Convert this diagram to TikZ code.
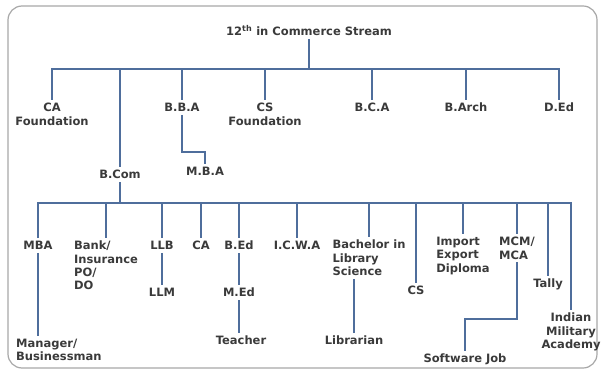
\documentclass[tikz,border=0pt]{standalone}
\usepackage{fontspec}
\setmainfont{DejaVu Sans}

\definecolor{linkblue}{HTML}{4F6E9C}
\definecolor{textgray}{HTML}{3A3A3A}
\definecolor{framegray}{HTML}{A8A8A8}

\begin{document}
\begin{tikzpicture}[x=1pt, y=-1pt,
labelnode/.style={font=\bfseries\fontsize{11.5}{13.3}\selectfont, text=textgray, align=center, inner sep=3pt, anchor=north},
leftnode/.style={labelnode, align=left},
link/.style={draw=linkblue, line width=1.8pt},
]
\useasboundingbox (0,0) rectangle (601,371);
\draw[framegray, line width=1.2pt, rounded corners=14pt] (8,6) rectangle (597,368);

% Bus heights
\coordinate (topbus) at (0,69);
\coordinate (lowbus) at (0,203);
\coordinate (bbabend) at (0,152);
\coordinate (mcmbend) at (0,319);

% Nodes
\node[labelnode] (title) at (309,22) {12\textsuperscript{th} in Commerce Stream};

\node[labelnode] (cafound) at (52,100) {CA\\Foundation};
\node[labelnode] (bcom) at (120,167) {B.Com};
\node[labelnode] (bba) at (182,100) {B.B.A};
\node[labelnode] (mbatwo) at (205,164) {M.B.A};
\node[labelnode] (csfound) at (265,100) {CS\\Foundation};
\node[labelnode] (bca) at (372,100) {B.C.A};
\node[labelnode] (barch) at (466,100) {B.Arch};
\node[labelnode] (ded) at (559,100) {D.Ed};

\node[labelnode] (mba) at (38,238) {MBA};
\node[leftnode, anchor=north west] (mgr) at (13,336) {Manager/\\Businessman};
\node[leftnode] (bank) at (106,238) {Bank/\\Insurance\\PO/\\DO};
\node[labelnode] (llb) at (162,238) {LLB};
\node[labelnode] (llm) at (162,285) {LLM};
\node[labelnode] (catwo) at (201,238) {CA};
\node[labelnode] (bed) at (239,238) {B.Ed};
\node[labelnode] (med) at (239,285) {M.Ed};
\node[labelnode] (teacher) at (241,333) {Teacher};
\node[labelnode] (icwa) at (297,238) {I.C.W.A};
\node[leftnode] (bls) at (369,237) {Bachelor in\\Library\\Science};
\node[labelnode] (librarian) at (354,333) {Librarian};
\node[labelnode] (cstwo) at (416,283) {CS};
\node[leftnode] (ied) at (463,234) {Import\\Export\\Diploma};
\node[leftnode] (mcm) at (517,234) {MCM/\\MCA};
\node[labelnode] (swjob) at (465,351) {Software Job};
\node[labelnode] (tally) at (548,276) {Tally};
\node[labelnode] (ima) at (571,310) {Indian\\Military\\Academy};

% Lines
\draw[link] (title.south) -- (title.south |- topbus);
\draw[link] (cafound.north) |- (title.south |- topbus) -| (ded.north);
\foreach \n in {bcom,bba,csfound,bca,barch}
  \draw[link] (\n.north |- topbus) -- (\n.north);
\draw[link] (bba.south) |- (mbatwo.north |- bbabend) -- (mbatwo.north);

\draw[link] (bcom.south) -- (bcom.south |- lowbus);
\draw[link] (mba.north) |- (bcom.south |- lowbus) -| (ima.north);
\foreach \n in {bank,llb,catwo,bed,icwa,bls,cstwo,ied,mcm,tally}
  \draw[link] (\n.north |- lowbus) -- (\n.north);

\draw[link] (mba.south) -- (mba.south |- mgr.north);
\draw[link] (llb.south) -- (llm.north);
\draw[link] (bed.south) -- (med.north);
\draw[link] (med.south) -- (med.south |- teacher.north);
\draw[link] (librarian.north) -- (librarian.north |- bls.south);
\draw[link] (mcm.south) |- (swjob.north |- mcmbend) -- (swjob.north);

\end{tikzpicture}
\end{document}
